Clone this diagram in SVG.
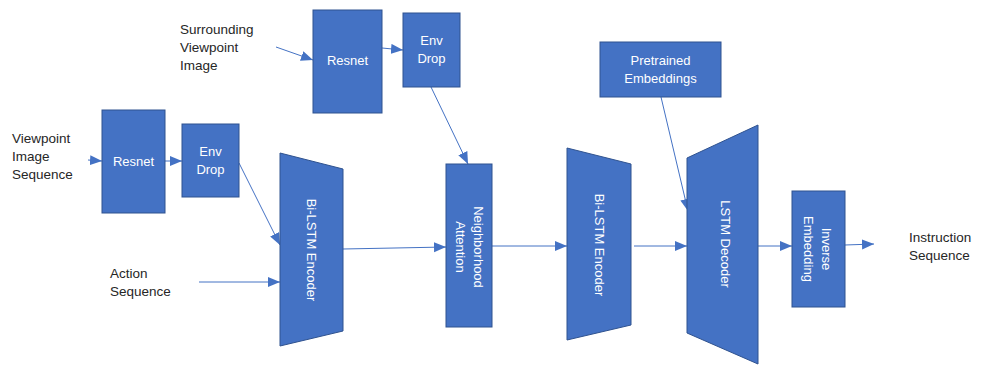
<svg xmlns="http://www.w3.org/2000/svg" width="984" height="365" viewBox="0 0 984 365">
  <style>
    .blk { fill: #4472C4; stroke: #2F528F; stroke-width: 1; }
    .in { fill: #FFFFFF; font-family: "Liberation Sans", Arial, sans-serif; font-size: 13px; text-anchor: middle; }
    .lbl { fill: #262626; font-family: "Liberation Sans", Arial, sans-serif; font-size: 13.5px; }
    .wire { fill: none; stroke: #4472C4; stroke-width: 1; marker-end: url(#head); }
  </style>
  <defs>
    <marker id="head" markerUnits="userSpaceOnUse" markerWidth="13" markerHeight="11" refX="12" refY="5" orient="auto">
      <path d="M0,0 L12,5 L0,10 Z" fill="#4472C4"/>
    </marker>
  </defs>
  <rect width="984" height="365" fill="#FFFFFF"/>

  <!-- free-standing labels -->
  <g id="lbl-surrounding">
    <text class="lbl" x="180" y="34">Surrounding</text>
    <text class="lbl" x="180" y="52">Viewpoint</text>
    <text class="lbl" x="180" y="70">Image</text>
  </g>
  <g id="lbl-viewpoint">
    <text class="lbl" x="12" y="143">Viewpoint</text>
    <text class="lbl" x="12" y="161">Image</text>
    <text class="lbl" x="12" y="179">Sequence</text>
  </g>
  <g id="lbl-action">
    <text class="lbl" x="110" y="278">Action</text>
    <text class="lbl" x="110" y="296">Sequence</text>
  </g>
  <g id="lbl-instruction">
    <text class="lbl" x="909" y="242">Instruction</text>
    <text class="lbl" x="909" y="260">Sequence</text>
  </g>

  <!-- connectors -->
  <g id="connectors">
    <line class="wire" x1="276" y1="47" x2="313" y2="60"/>
    <line class="wire" x1="382" y1="48" x2="403" y2="50"/>
    <line class="wire" x1="88" y1="160" x2="102" y2="161"/>
    <line class="wire" x1="165" y1="161" x2="182" y2="161"/>
    <line class="wire" x1="239" y1="163" x2="280" y2="245"/>
    <line class="wire" x1="199" y1="282" x2="280" y2="282"/>
    <line class="wire" x1="343" y1="249" x2="446" y2="247"/>
    <line class="wire" x1="431" y1="87" x2="468" y2="164"/>
    <line class="wire" x1="492" y1="246" x2="567" y2="246"/>
    <line class="wire" x1="634" y1="246" x2="687" y2="246"/>
    <line class="wire" x1="661" y1="97" x2="688" y2="211"/>
    <line class="wire" x1="758" y1="246" x2="792" y2="246"/>
    <line class="wire" x1="845" y1="245" x2="874" y2="244"/>
  </g>

  <!-- nodes -->
  <g id="resnet-top">
    <rect class="blk" x="313" y="10" width="69" height="103"/>
    <text class="in" x="347.5" y="65">Resnet</text>
  </g>
  <g id="envdrop-top">
    <rect class="blk" x="403" y="13" width="57" height="74"/>
    <text class="in" x="431.5" y="45">Env</text>
    <text class="in" x="431.5" y="63">Drop</text>
  </g>
  <g id="resnet-left">
    <rect class="blk" x="102" y="110" width="63" height="103"/>
    <text class="in" x="133.5" y="166">Resnet</text>
  </g>
  <g id="envdrop-left">
    <rect class="blk" x="182" y="124" width="57" height="73"/>
    <text class="in" x="210.5" y="156">Env</text>
    <text class="in" x="210.5" y="174">Drop</text>
  </g>
  <g id="bilstm-encoder-1">
    <polygon class="blk" points="280,153 343,169 343,331 280,346"/>
    <text class="in" transform="translate(311,250) rotate(90)" y="4.5">Bi-LSTM Encoder</text>
  </g>
  <g id="neighborhood-attention">
    <rect class="blk" x="446" y="164" width="46" height="163"/>
    <g transform="translate(469,247) rotate(90)">
      <text class="in" y="-4.5">Neighborhood</text>
      <text class="in" y="13.5">Attention</text>
    </g>
  </g>
  <g id="bilstm-encoder-2">
    <polygon class="blk" points="567,148 631,164 631,325 567,340"/>
    <text class="in" transform="translate(599,245) rotate(90)" y="4.5">Bi-LSTM Encoder</text>
  </g>
  <g id="pretrained-embeddings">
    <rect class="blk" x="600" y="42" width="121" height="55"/>
    <text class="in" x="660.5" y="65">Pretrained</text>
    <text class="in" x="660.5" y="83">Embeddings</text>
  </g>
  <g id="lstm-decoder">
    <polygon class="blk" points="687,158 758,125 758,364 687,333"/>
    <text class="in" transform="translate(725,244) rotate(90)" y="4.5">LSTM Decoder</text>
  </g>
  <g id="inverse-embedding">
    <rect class="blk" x="792" y="191" width="53" height="116"/>
    <g transform="translate(817,249) rotate(90)">
      <text class="in" y="-4.5">Inverse</text>
      <text class="in" y="13.5">Embedding</text>
    </g>
  </g>
</svg>
